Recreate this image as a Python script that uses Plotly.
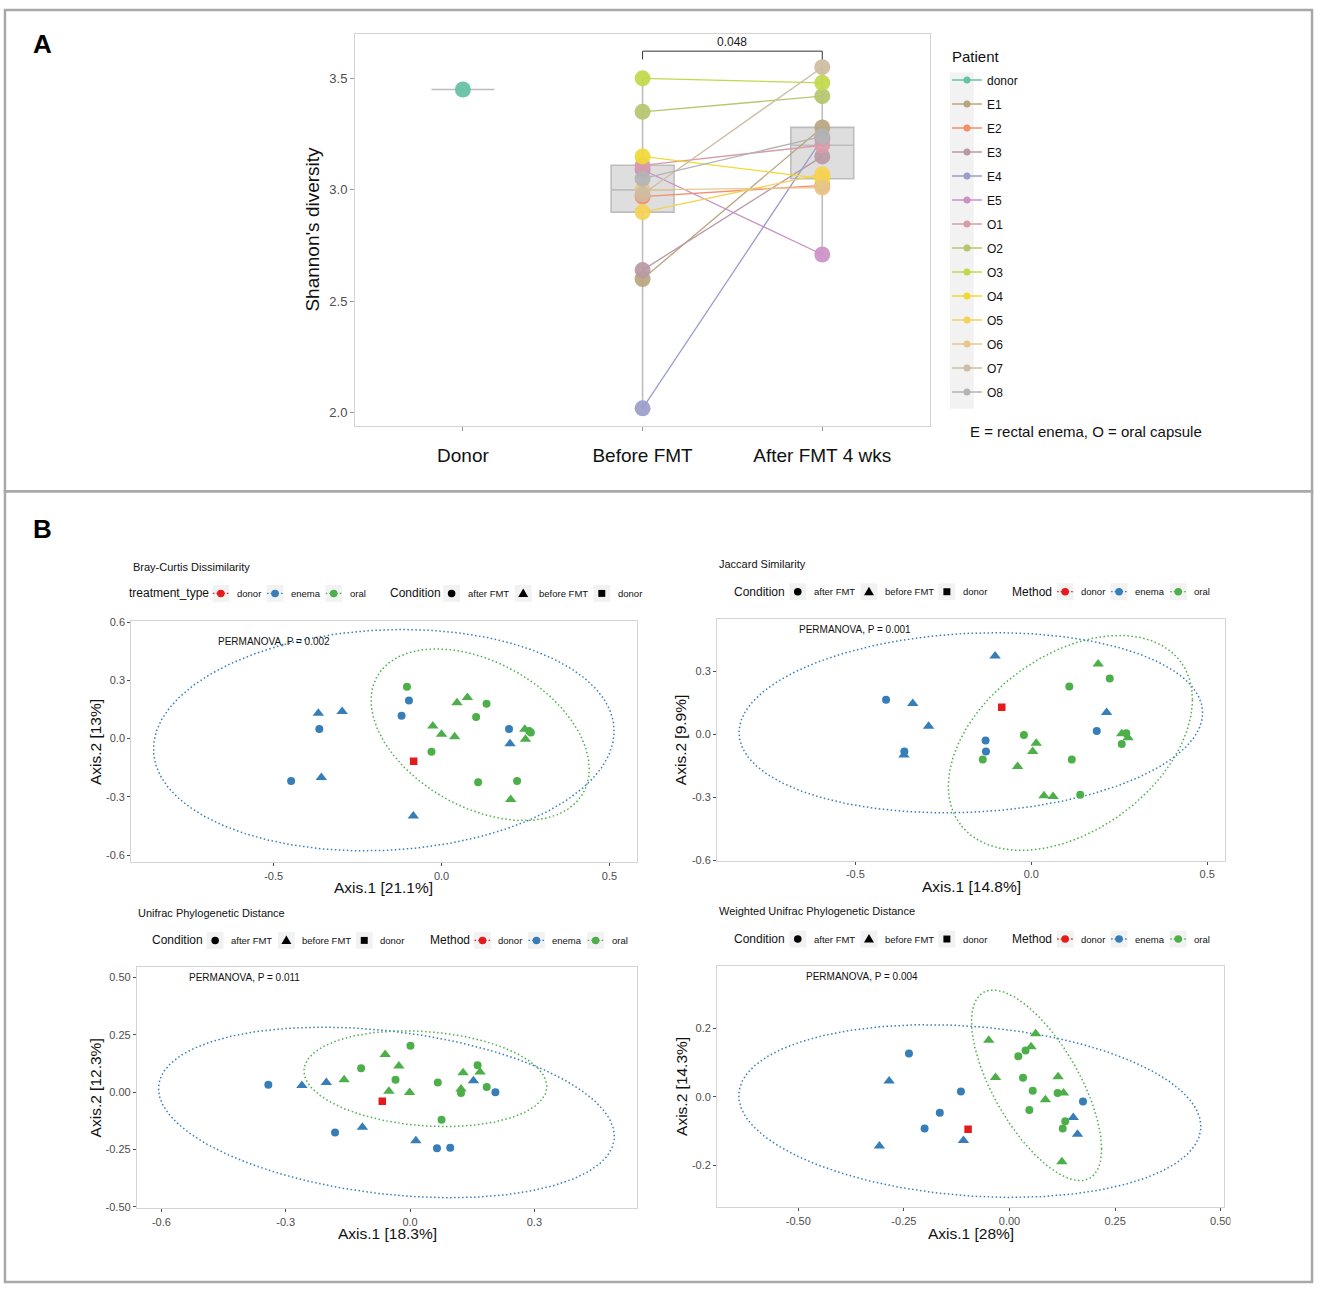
import numpy as np
import plotly.graph_objects as go

W, H = 1325, 1292
FONT = "Liberation Sans, Arial, sans-serif"

# ---------- panel A : Shannon diversity ----------
groups = ["Donor", "Before FMT", "After FMT 4 wks"]
patients = ["E1", "E2", "E3", "E4", "E5", "O1", "O2", "O3", "O4", "O5", "O6", "O7", "O8"]
shannon_before = [2.60, 2.97, 2.64, 2.02, 3.09, 3.11, 3.35, 3.50, 3.15, 2.90, 3.00, 2.98, 3.05]
shannon_after = [3.28, 3.02, 3.15, 3.23, 2.71, 3.20, 3.42, 3.48, 3.05, 3.07, 3.01, 3.55, 3.24]
shannon_donor = [3.45]
p_value_text = "0.048"

patient_colors = ["#B7A681", "#F48F6A", "#B899A3", "#9B9DCA", "#CB91C5", "#D89CA9", "#B5C66E",
                  "#C1D849", "#F1D935", "#F5D156", "#E7C68C", "#CEBCA2", "#B3B3B3"]
donor_color = "#66C2A5"

# ---------- panel B : PCoA ordinations ----------
# sample order: donor, enema after x5, enema before x5, oral after x8, oral before x8
sample_method = ["donor",
                 "enema", "enema", "enema", "enema", "enema",
                 "enema", "enema", "enema", "enema", "enema",
                 "oral", "oral", "oral", "oral", "oral", "oral", "oral", "oral",
                 "oral", "oral", "oral", "oral", "oral", "oral", "oral", "oral"]
sample_condition = ["donor",
                    "after FMT", "after FMT", "after FMT", "after FMT", "after FMT",
                    "before FMT", "before FMT", "before FMT", "before FMT", "before FMT",
                    "after FMT", "after FMT", "after FMT", "after FMT", "after FMT", "after FMT", "after FMT", "after FMT",
                    "before FMT", "before FMT", "before FMT", "before FMT", "before FMT", "before FMT", "before FMT", "before FMT"]

bray_axis1 = [-0.083,
              -0.364, -0.448, -0.097, -0.119, 0.201,
              -0.367, -0.296, -0.358, -0.084, 0.204,
              -0.103, -0.030, 0.103, 0.134, 0.109, 0.225, 0.261, 0.266,
              -0.026, 0.000, 0.039, 0.046, 0.077, 0.248, 0.250, 0.206]
bray_axis2 = [-0.116,
              0.049, -0.218, 0.196, 0.117, 0.049,
              0.130, 0.140, -0.200, -0.398, -0.026,
              0.267, -0.068, 0.111, 0.180, -0.225, -0.218, 0.039, 0.032,
              0.065, 0.022, 0.009, 0.184, 0.211, 0.048, -0.003, -0.313]

jaccard_axis1 = [-0.084,
                 -0.413, -0.361, -0.130, -0.129, 0.186,
                 -0.103, -0.337, -0.292, -0.362, 0.214,
                 -0.021, -0.138, 0.108, 0.223, 0.115, 0.139, 0.257, 0.270,
                 0.190, 0.014, 0.004, -0.039, 0.036, 0.062, 0.257, 0.275]
jaccard_axis2 = [0.129,
                 0.164, -0.082, -0.030, -0.082, 0.016,
                 0.373, 0.146, 0.038, -0.098, 0.104,
                 -0.003, -0.120, 0.227, 0.266, -0.120, -0.288, -0.046, 0.005,
                 0.335, -0.042, -0.082, -0.153, -0.293, -0.296, 0.003, -0.017]

unifrac_axis1 = [-0.067,
                 -0.342, -0.181, 0.065, 0.097, 0.206,
                 -0.261, -0.202, -0.115, 0.014, 0.153,
                 -0.118, -0.035, 0.001, 0.067, 0.076, 0.123, 0.163, 0.185,
                 -0.159, -0.060, -0.027, -0.051, -0.001, 0.128, 0.169, 0.123]
unifrac_axis2 = [-0.039,
                 0.033, -0.175, -0.244, -0.242, 0.000,
                 0.030, 0.043, -0.153, -0.211, 0.050,
                 0.105, 0.055, 0.203, 0.043, -0.120, -0.003, 0.118, 0.023,
                 0.055, 0.165, 0.114, 0.004, -0.001, 0.085, 0.088, 0.014]

wunifrac_axis1 = [-0.098,
                  -0.238, -0.115, -0.165, -0.201, 0.174,
                  -0.285, -0.308, -0.109, 0.151, 0.161,
                  0.021, 0.038, 0.032, 0.055, 0.047, 0.114, 0.132, 0.126,
                  -0.049, 0.062, 0.051, -0.033, 0.115, 0.128, 0.085, 0.124]
wunifrac_axis2 = [-0.095,
                  0.126, 0.015, -0.047, -0.093, -0.014,
                  0.046, -0.144, -0.128, -0.061, -0.110,
                  0.118, 0.135, 0.055, 0.017, -0.039, 0.011, -0.072, -0.093,
                  0.165, 0.184, 0.146, 0.056, 0.058, 0.011, -0.009, -0.190]

# 95% ellipses: centre x, centre y, x half-width, y at x-extreme offset, remaining y radius
bray_ellipse_enema = [-0.172, -0.008, 0.686, 0.046, 0.568]
bray_ellipse_oral = [0.115, 0.020, 0.325, -0.177, 0.405]
jaccard_ellipse_enema = [-0.172, 0.055, 0.659, 0.047, 0.426]
jaccard_ellipse_oral = [0.111, -0.041, 0.347, 0.206, 0.468]
unifrac_ellipse_enema = [-0.057, -0.088, 0.550, -0.104, 0.357]
unifrac_ellipse_oral = [0.037, 0.059, 0.293, -0.034, 0.206]
wunifrac_ellipse_enema = [-0.094, -0.042, 0.547, -0.045, 0.248]
wunifrac_ellipse_oral = [0.064, 0.033, 0.154, -0.186, 0.207]

method_colors = {"donor": "#E41A1C", "enema": "#377EB8", "oral": "#4DAF4A"}
cond_symbols = {"after FMT": "circle", "before FMT": "triangle-up", "donor": "square"}
cond_sizes = {"after FMT": 8, "before FMT": 10, "donor": 7.5}


def px(x):
    return x / W


def py(y):
    return 1 - y / H


def note(x, y, text, size, color="#111111", **kw):
    # text placed in page pixels, centred unless told otherwise
    d = dict(x=px(x), y=py(y), xref="paper", yref="paper", text=text, showarrow=False,
             xanchor="center", yanchor="middle", font=dict(size=size, color=color))
    d.update(kw)
    annotations.append(d)


fig = go.Figure()
shapes = []
annotations = []

# ---------------- panel A ----------------
bef = np.array(shannon_before)
aft = np.array(shannon_after)
q1 = [shannon_donor[0], np.percentile(bef, 25), np.percentile(aft, 25)]
med = [shannon_donor[0], np.median(bef), np.median(aft)]
q3 = [shannon_donor[0], np.percentile(bef, 75), np.percentile(aft, 75)]
lo = [shannon_donor[0], bef.min(), aft.min()]
hi = [shannon_donor[0], bef.max(), aft.max()]
fig.add_trace(go.Box(x=groups, q1=q1, median=med, q3=q3, lowerfence=lo, upperfence=hi,
                     width=0.35, whiskerwidth=0, boxpoints=False,
                     fillcolor="rgba(200,200,200,0.6)", line=dict(color="#BDBDBD", width=1.6),
                     showlegend=False, hoverinfo="skip"))

fig.add_trace(go.Scatter(x=[groups[0]], y=shannon_donor, mode="markers",
                         marker=dict(size=16, color=donor_color, opacity=0.95),
                         showlegend=False))
for name, b, a, col in zip(patients, shannon_before, shannon_after, patient_colors):
    fig.add_trace(go.Scatter(x=[groups[1], groups[2]], y=[b, a], mode="lines+markers",
                             line=dict(color=col, width=1.3),
                             marker=dict(size=16, color=col, opacity=0.92),
                             showlegend=False))

# legend proxies for panel A
for name, col in [("donor", donor_color)] + list(zip(patients, patient_colors)):
    fig.add_trace(go.Scatter(x=[None], y=[None], mode="lines+markers", name=name,
                             legendgroup=name, line=dict(color=col, width=1.5),
                             marker=dict(size=7, color=col)))

# significance bracket
for x0, y0, x1, y1 in [(1, 3.585, 1, 3.622), (1, 3.622, 2, 3.622), (2, 3.622, 2, 3.585)]:
    shapes.append(dict(type="line", xref="x", yref="y", x0=x0, y0=y0, x1=x1, y1=y1,
                       line=dict(color="#333333", width=1)))
annotations.append(dict(x=1.5, y=3.622, xref="x", yref="y", text=p_value_text, showarrow=False,
                        xanchor="center", yanchor="bottom", font=dict(size=12, color="#1A1A1A")))

# ---------------- panel B ----------------
panels = [
    dict(title="Bray-Curtis Dissimilarity", ax1=bray_axis1, ax2=bray_axis2,
         ell={"enema": bray_ellipse_enema, "oral": bray_ellipse_oral},
         xr=[-0.924, 0.581], yr=[-0.637, 0.606],
         xt=[-0.5, 0.0, 0.5], xtt=["-0.5", "0.0", "0.5"],
         yt=[-0.6, -0.3, 0.0, 0.3, 0.6], ytt=["-0.6", "-0.3", "0.0", "0.3", "0.6"],
         box=(132, 640, 620.7, 864), xlab="Axis.1 [21.1%]", ylab="Axis.2 [13%]",
         perm="PERMANOVA, P = 0.002", perm_at=(-0.5, 0.5),
         title_at=(132, 566), ylab_x=96, xlab_y=889),
    dict(title="Jaccard Similarity", ax1=jaccard_axis1, ax2=jaccard_axis2,
         ell={"enema": jaccard_ellipse_enema, "oral": jaccard_ellipse_oral},
         xr=[-0.893, 0.552], yr=[-0.603, 0.551],
         xt=[-0.5, 0.0, 0.5], xtt=["-0.5", "0.0", "0.5"],
         yt=[-0.6, -0.3, 0.0, 0.3], ytt=["-0.6", "-0.3", "0.0", "0.3"],
         box=(721, 1232, 618.3, 862.7), xlab="Axis.1 [14.8%]", ylab="Axis.2 [9.9%]",
         perm="PERMANOVA, P = 0.001", perm_at=(-0.5, 0.5),
         title_at=(721, 563), ylab_x=684, xlab_y=888),
    dict(title="Unifrac Phylogenetic Distance", ax1=unifrac_axis1, ax2=unifrac_axis2,
         ell={"enema": unifrac_ellipse_enema, "oral": unifrac_ellipse_oral},
         xr=[-0.659, 0.548], yr=[-0.506, 0.544],
         xt=[-0.6, -0.3, 0.0, 0.3], xtt=["-0.6", "-0.3", "0.0", "0.3"],
         yt=[-0.5, -0.25, 0.0, 0.25, 0.5], ytt=["-0.50", "-0.25", "0.00", "0.25", "0.50"],
         box=(137.7, 640.5, 970, 1212.7), xlab="Axis.1 [18.3%]", ylab="Axis.2 [12.3%]",
         perm="PERMANOVA, P = 0.011", perm_at=(-0.4, 0.5),
         title_at=(137, 915), ylab_x=96, xlab_y=1238),
    dict(title="Weighted Unifrac Phylogenetic Distance", ax1=wunifrac_axis1, ax2=wunifrac_axis2,
         ell={"enema": wunifrac_ellipse_enema, "oral": wunifrac_ellipse_oral},
         xr=[-0.692, 0.509], yr=[-0.323, 0.382],
         xt=[-0.5, -0.25, 0.0, 0.25, 0.5], xtt=["-0.50", "-0.25", "0.00", "0.25", "0.50"],
         yt=[-0.2, 0.0, 0.2], ytt=["-0.2", "0.0", "0.2"],
         box=(721, 1231, 968.3, 1211.7), xlab="Axis.1 [28%]", ylab="Axis.2 [14.3%]",
         perm="PERMANOVA, P = 0.004", perm_at=(-0.35, 0.35),
         title_at=(721, 913), ylab_x=685, xlab_y=1238),
]

t = np.linspace(0, 2 * np.pi, 361)
layout_axes = {}
for i, p in enumerate(panels, start=2):
    xa, ya = f"x{i}", f"y{i}"
    for m in ("enema", "oral"):
        cx, cy, a, c, b = p["ell"][m]
        fig.add_trace(go.Scatter(x=cx + a * np.cos(t), y=cy + c * np.cos(t) + b * np.sin(t),
                                 mode="lines", line=dict(color=method_colors[m], width=1.5, dash="1.5px,2.5px"),
                                 xaxis=xa, yaxis=ya, showlegend=False, hoverinfo="skip"))
    for m in ("enema", "oral", "donor"):
        for cond in ("after FMT", "before FMT", "donor"):
            idx = [k for k in range(len(sample_method)) if sample_method[k] == m and sample_condition[k] == cond]
            if not idx:
                continue
            fig.add_trace(go.Scatter(x=[p["ax1"][k] for k in idx], y=[p["ax2"][k] for k in idx],
                                     mode="markers", xaxis=xa, yaxis=ya, showlegend=False,
                                     marker=dict(symbol=cond_symbols[cond], size=cond_sizes[cond],
                                                 color=method_colors[m], line=dict(width=0))))
    l, r, top, bot = p["box"]
    axis_style = dict(showline=True, mirror=True, linecolor="#D4D4D4", linewidth=1.2,
                      ticks="outside", ticklen=3, tickcolor="#4D4D4D", showgrid=False, zeroline=False,
                      tickfont=dict(size=11, color="#4D4D4D"))
    layout_axes[f"xaxis{i}"] = dict(domain=[px(l), px(r)], anchor=ya, range=p["xr"],
                                    tickvals=p["xt"], ticktext=p["xtt"], **axis_style)
    layout_axes[f"yaxis{i}"] = dict(domain=[py(bot), py(top)], anchor=xa, range=p["yr"],
                                    tickvals=p["yt"], ticktext=p["ytt"], **axis_style)
    annotations.append(dict(x=p["perm_at"][0], y=p["perm_at"][1], xref=xa, yref=ya, text=p["perm"],
                            showarrow=False, xanchor="center", yanchor="middle",
                            font=dict(size=10, color="#111111")))
    note(p["title_at"][0], p["title_at"][1], p["title"], 11, xanchor="left")
    note((l + r) / 2, p["xlab_y"], p["xlab"], 15.5)
    note(p["ylab_x"], (top + bot) / 2, p["ylab"], 15.5, textangle=-90)


# legend rows for panel B (drawn by hand, ggplot style)
def key_box(x, y):
    shapes.append(dict(type="rect", xref="paper", yref="paper", x0=px(x - 8.5), x1=px(x + 8.5),
                       y0=py(y + 8.5), y1=py(y - 8.5), fillcolor="#F2F2F2", line=dict(width=0)))


def method_key(x, y, name):
    key_box(x, y)
    col = method_colors[name]
    shapes.append(dict(type="line", xref="paper", yref="paper", x0=px(x - 8), x1=px(x + 8),
                       y0=py(y), y1=py(y), line=dict(color=col, width=1.3, dash="1.5px,2px")))
    shapes.append(dict(type="circle", xref="paper", yref="paper", x0=px(x - 3.8), x1=px(x + 3.8),
                       y0=py(y + 3.8), y1=py(y - 3.8), fillcolor=col, line=dict(width=0)))
    note(x + 14, y, name, 9.5, xanchor="left")


def cond_key(x, y, name):
    key_box(x, y)
    if name == "after FMT":
        shapes.append(dict(type="circle", xref="paper", yref="paper", x0=px(x - 3.8), x1=px(x + 3.8),
                           y0=py(y + 3.8), y1=py(y - 3.8), fillcolor="black", line=dict(width=0)))
    elif name == "before FMT":
        path = f"M {px(x - 5)},{py(y + 3.5)} L {px(x + 5)},{py(y + 3.5)} L {px(x)},{py(y - 5)} Z"
        shapes.append(dict(type="path", xref="paper", yref="paper", path=path,
                           fillcolor="black", line=dict(width=0)))
    else:
        shapes.append(dict(type="rect", xref="paper", yref="paper", x0=px(x - 3.5), x1=px(x + 3.5),
                           y0=py(y + 3.5), y1=py(y - 3.5), fillcolor="black", line=dict(width=0)))
    note(x + 14, y, name, 9.5, xanchor="left")


# Bray-Curtis: treatment_type first, Condition second
note(128, 593, "treatment_type", 12, xanchor="left")
method_key(222, 593, "donor")
method_key(276.5, 593, "enema")
method_key(335.5, 593, "oral")
note(389.6, 593, "Condition", 12, xanchor="left")
cond_key(454, 593, "after FMT")
cond_key(526, 593, "before FMT")
cond_key(605, 593, "donor")

# other three: Condition first, Method second
for x_off, y_row in [(0, 591.3), (-585.7, 942.7), (0, 941.3)]:
    note(736 + x_off, y_row, "Condition", 12, xanchor="left")
    cond_key(802 + x_off, y_row, "after FMT")
    cond_key(873.6 + x_off, y_row, "before FMT")
    cond_key(951.9 + x_off, y_row, "donor")
    note(1015.5 + x_off, y_row, "Method", 12, xanchor="left")
    method_key(1070.8 + x_off, y_row, "donor")
    method_key(1125 + x_off, y_row, "enema")
    method_key(1184.5 + x_off, y_row, "oral")

# the weighted unifrac figure is cropped just right of its last tick label
shapes.append(dict(type="rect", xref="paper", yref="paper", x0=px(1237), x1=px(1317), y0=py(1232),
                   y1=py(1214), fillcolor="white", line=dict(width=0), layer="above"))

# panel A legend key background, title and note
shapes.append(dict(type="rect", xref="paper", yref="paper", x0=px(955), x1=px(979), y0=py(407), y1=py(68),
                   fillcolor="#F2F2F2", line=dict(width=0), layer="below"))
note(955, 52, "Patient", 15, xanchor="left")
note(1092, 430, "E = rectal enema, O = oral capsule", 15)
note(314, 226, "Shannon's diversity", 19, textangle=-90)

# panel labels and frames
note(42.5, 39, "<b>A</b>", 26, color="black")
note(42.5, 528, "<b>B</b>", 26, color="black")
for y0, y1 in [(5, 490), (490, 1287)]:
    shapes.append(dict(type="rect", xref="paper", yref="paper", x0=px(5), x1=px(1319), y0=py(y1), y1=py(y0),
                       line=dict(color="#A8A8A8", width=2.5), fillcolor="rgba(0,0,0,0)"))

fig.update_layout(
    width=W, height=H, autosize=False,
    margin=dict(l=0, r=0, t=0, b=0),
    paper_bgcolor="white", plot_bgcolor="white",
    font=dict(family=FONT, color="#111111"),
    xaxis=dict(domain=[px(357), px(935)], anchor="y", type="category", categoryorder="array",
               categoryarray=groups, range=[-0.6, 2.6], showline=True, mirror=True,
               linecolor="#D4D4D4", linewidth=1.2, ticks="outside", ticklen=4, tickcolor="#9A9A9A",
               showgrid=False, zeroline=False, tickfont=dict(size=19, color="#111111"),
               ticklabelstandoff=8),
    yaxis=dict(domain=[py(424), py(29)], anchor="x", range=[1.942, 3.70],
               tickvals=[2.0, 2.5, 3.0, 3.5], ticktext=["2.0", "2.5", "3.0", "3.5"],
               showline=True, mirror=True, linecolor="#D4D4D4", linewidth=1.2, ticks="outside",
               ticklen=4, tickcolor="#9A9A9A", showgrid=False, zeroline=False,
               tickfont=dict(size=13, color="#4D4D4D")),
    legend=dict(x=px(952), y=py(61), xanchor="left", yanchor="top", font=dict(size=12),
                tracegroupgap=5, bgcolor="rgba(0,0,0,0)", itemwidth=30),
    shapes=shapes,
    annotations=annotations,
    **layout_axes,
)

# pin the figure to the top-left corner of the page so nothing scrolls or shifts
pin = ("document.documentElement.style.overflow='hidden';"
       "document.body.style.margin='0px';document.body.style.overflow='hidden';"
       "var gd=document.getElementById('{plot_id}');"
       "gd.style.position='fixed';gd.style.left='0px';gd.style.top='0px';")
fig.write_html("out.html", config={"displayModeBar": False}, post_script=pin)
